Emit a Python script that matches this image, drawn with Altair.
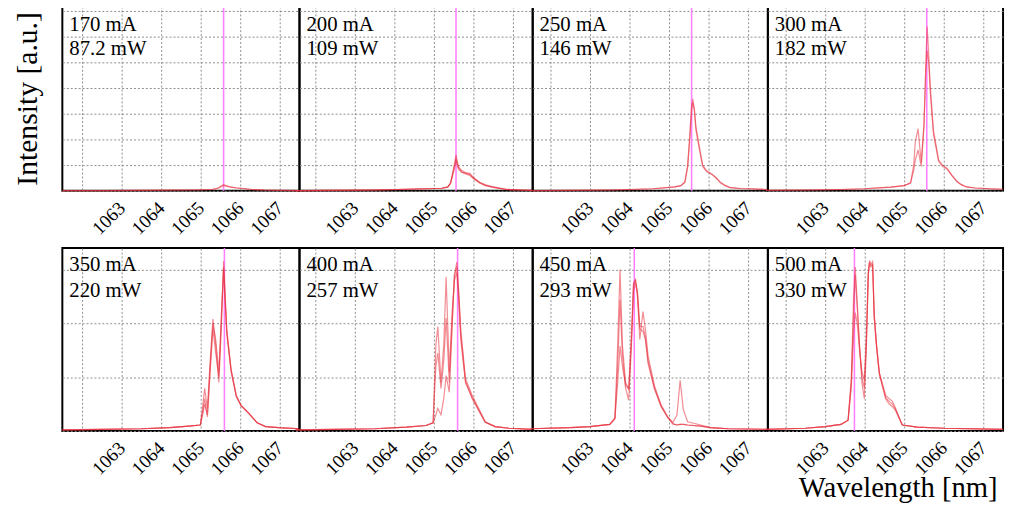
import altair as alt
import pandas as pd

FONT = "Liberation Serif"

CURRENTS = ["170 mA", "200 mA", "250 mA", "300 mA", "350 mA", "400 mA", "450 mA", "500 mA"]
POWERS = ["87.2 mW", "109 mW", "146 mW", "182 mW", "220 mW", "257 mW", "293 mW", "330 mW"]
CENTERS = [1065.58, 1065.56, 1065.57, 1065.57, 1065.6, 1065.6, 1064.12, 1063.74]
X_TICKS = [1062, 1063, 1064, 1065, 1066, 1067]

# ---- spectra (wavelength grid + several traces per panel) ----
WL1 = [1061.5, 1062.5, 1063.5, 1064.5, 1065.0, 1065.3, 1065.45, 1065.52, 1065.58, 1065.65, 1065.75, 1065.9, 1066.1, 1066.3, 1066.6, 1067.0, 1067.5]
A1 = [0.01, 0.01, 0.02, 0.03, 0.04, 0.06, 0.12, 0.2, 0.24, 0.2, 0.15, 0.12, 0.09, 0.05, 0.03, 0.02, 0.01]
B1 = [0.01, 0.01, 0.02, 0.03, 0.04, 0.05, 0.1, 0.16, 0.2, 0.18, 0.14, 0.11, 0.08, 0.05, 0.03, 0.02, 0.01]

WL2 = [1061.5, 1062.5, 1063.5, 1064.3, 1064.8, 1065.2, 1065.35, 1065.42, 1065.5, 1065.56, 1065.62, 1065.7, 1065.8, 1065.91, 1066.0, 1066.16, 1066.3, 1066.5, 1066.83, 1067.2, 1067.5]
A2 = [0.01, 0.02, 0.03, 0.06, 0.08, 0.1, 0.15, 0.3, 0.9, 1.4, 0.95, 0.8, 0.7, 0.63, 0.5, 0.31, 0.22, 0.14, 0.05, 0.03, 0.02]
B2 = [0.01, 0.02, 0.03, 0.06, 0.08, 0.1, 0.14, 0.28, 0.75, 1.14, 0.85, 0.72, 0.7, 0.68, 0.52, 0.33, 0.23, 0.15, 0.06, 0.03, 0.02]
C2 = [0.01, 0.02, 0.03, 0.06, 0.08, 0.1, 0.14, 0.29, 0.8, 1.25, 0.9, 0.74, 0.66, 0.6, 0.47, 0.3, 0.2, 0.13, 0.05, 0.03, 0.02]

WL3 = [1061.5, 1062.5, 1063.5, 1064.0, 1064.6, 1065.15, 1065.3, 1065.4, 1065.47, 1065.52, 1065.57, 1065.6, 1065.64, 1065.68, 1065.77, 1065.85, 1065.95, 1066.09, 1066.2, 1066.3, 1066.42, 1066.55, 1066.8, 1067.04, 1067.5]
A3 = [0.01, 0.02, 0.03, 0.05, 0.08, 0.15, 0.2, 0.35, 1.0, 2.1, 3.3, 3.58, 3.1, 2.36, 1.59, 0.95, 0.75, 0.63, 0.48, 0.31, 0.2, 0.12, 0.09, 0.08, 0.05]
B3 = [0.01, 0.02, 0.03, 0.05, 0.08, 0.15, 0.2, 0.33, 0.9, 1.9, 3.1, 3.45, 3.2, 2.5, 1.7, 1.0, 0.78, 0.65, 0.5, 0.33, 0.21, 0.12, 0.09, 0.08, 0.05]

WL4 = [1061.5, 1062.5, 1063.4, 1064.0, 1064.66, 1065.0, 1065.16, 1065.24, 1065.28, 1065.35, 1065.43, 1065.5, 1065.55, 1065.58, 1065.62, 1065.66, 1065.74, 1065.87, 1065.97, 1066.08, 1066.2, 1066.33, 1066.45, 1066.58, 1066.8, 1067.15, 1067.5]
A4 = [0.02, 0.03, 0.05, 0.08, 0.14, 0.2, 0.31, 0.8, 1.2, 1.59, 0.95, 2.5, 5.2, 6.4, 5.3, 4.03, 2.36, 1.2, 1.0, 0.88, 0.62, 0.37, 0.24, 0.15, 0.11, 0.08, 0.06]
B4 = [0.02, 0.03, 0.05, 0.08, 0.14, 0.2, 0.3, 1.0, 1.9, 2.42, 1.1, 2.6, 4.8, 5.46, 5.0, 3.8, 2.2, 1.15, 0.95, 0.85, 0.6, 0.36, 0.23, 0.15, 0.11, 0.08, 0.06]

WL5 = [1061.5, 1062.5, 1063.5, 1064.22, 1064.7, 1064.99, 1065.05, 1065.1, 1065.17, 1065.24, 1065.31, 1065.38, 1065.46, 1065.52, 1065.58, 1065.62, 1065.66, 1065.77, 1065.9, 1066.02, 1066.22, 1066.43, 1066.64, 1066.97, 1067.5]
A5 = [0.02, 0.03, 0.04, 0.06, 0.09, 0.11, 0.45, 0.79, 0.42, 1.3, 2.08, 1.6, 0.9, 1.9, 3.16, 2.5, 1.89, 1.15, 0.66, 0.48, 0.33, 0.15, 0.08, 0.06, 0.04]
B5 = [0.02, 0.03, 0.04, 0.06, 0.09, 0.11, 0.35, 0.6, 0.26, 1.1, 1.9, 1.45, 1.0, 2.0, 3.0, 2.4, 1.8, 1.1, 0.64, 0.47, 0.32, 0.15, 0.08, 0.06, 0.04]
C5 = [0.02, 0.03, 0.04, 0.06, 0.09, 0.11, 0.3, 0.5, 0.3, 1.2, 2.0, 1.7, 1.1, 2.1, 3.05, 2.45, 1.85, 1.12, 0.65, 0.47, 0.32, 0.15, 0.08, 0.06, 0.04]

WL6 = [1061.5, 1062.5, 1063.5, 1064.3, 1064.8, 1064.98, 1065.05, 1065.1, 1065.18, 1065.25, 1065.31, 1065.39, 1065.46, 1065.52, 1065.58, 1065.63, 1065.68, 1065.8, 1065.97, 1066.13, 1066.3, 1066.55, 1066.9, 1067.5]
A6 = [0.02, 0.03, 0.04, 0.07, 0.1, 0.15, 1.2, 1.45, 0.79, 1.3, 2.1, 0.9, 2.0, 2.9, 3.14, 2.6, 1.89, 0.97, 0.66, 0.42, 0.17, 0.08, 0.05, 0.03]
B6 = [0.02, 0.03, 0.04, 0.07, 0.1, 0.15, 1.6, 1.94, 0.9, 1.6, 2.86, 1.1, 2.2, 2.8, 2.95, 2.4, 1.7, 0.9, 0.6, 0.38, 0.16, 0.08, 0.05, 0.03]
C6 = [0.02, 0.03, 0.04, 0.07, 0.1, 0.15, 0.3, 0.42, 0.3, 0.6, 1.03, 0.72, 1.9, 2.9, 3.05, 2.5, 1.8, 0.92, 0.62, 0.4, 0.16, 0.08, 0.05, 0.03]

WL7 = [1061.5, 1062.5, 1063.0, 1063.5, 1063.63, 1063.7, 1063.76, 1063.82, 1063.9, 1063.98, 1064.05, 1064.1, 1064.15, 1064.2, 1064.26, 1064.34, 1064.4, 1064.47, 1064.63, 1064.8, 1064.97, 1065.1, 1065.2, 1065.28, 1065.36, 1065.47, 1065.8, 1066.05, 1066.5, 1067.5]
A7 = [0.04, 0.06, 0.08, 0.12, 0.24, 1.2, 2.44, 1.4, 0.8, 0.57, 1.6, 2.7, 2.83, 2.5, 1.7, 2.22, 1.9, 1.39, 0.84, 0.48, 0.26, 0.16, 0.3, 0.94, 0.4, 0.17, 0.11, 0.06, 0.04, 0.03]
B7 = [0.04, 0.06, 0.08, 0.12, 0.24, 1.6, 3.0, 1.6, 0.9, 0.78, 1.8, 2.75, 2.8, 2.6, 1.95, 1.94, 1.75, 1.3, 0.8, 0.46, 0.25, 0.13, 0.11, 0.12, 0.12, 0.11, 0.09, 0.06, 0.04, 0.03]
C7 = [0.04, 0.06, 0.08, 0.12, 0.22, 0.9, 1.58, 1.2, 0.85, 0.78, 1.7, 2.6, 2.75, 2.55, 1.9, 1.85, 1.7, 1.25, 0.78, 0.45, 0.24, 0.13, 0.11, 0.12, 0.12, 0.11, 0.09, 0.06, 0.04, 0.03]

WL8 = [1061.5, 1062.5, 1063.0, 1063.4, 1063.58, 1063.66, 1063.72, 1063.76, 1063.81, 1063.87, 1063.93, 1063.99, 1064.04, 1064.09, 1064.12, 1064.16, 1064.2, 1064.24, 1064.3, 1064.37, 1064.53, 1064.62, 1064.7, 1064.78, 1064.95, 1065.33, 1066.0, 1067.5]
A8 = [0.03, 0.05, 0.08, 0.12, 0.2, 0.97, 2.5, 3.05, 2.4, 1.58, 0.9, 0.6, 1.5, 2.9, 3.17, 3.1, 3.15, 2.19, 1.6, 1.09, 0.66, 0.6, 0.55, 0.42, 0.11, 0.07, 0.05, 0.03]
B8 = [0.03, 0.05, 0.08, 0.12, 0.2, 0.8, 1.8, 2.2, 2.0, 1.5, 1.1, 0.95, 1.7, 2.95, 3.1, 3.05, 3.08, 2.1, 1.55, 1.05, 0.6, 0.5, 0.45, 0.38, 0.11, 0.07, 0.05, 0.03]
C8 = [0.03, 0.05, 0.08, 0.12, 0.2, 0.9, 2.2, 2.9, 2.3, 1.55, 1.0, 0.8, 1.6, 2.9, 3.12, 3.08, 3.1, 2.15, 1.58, 1.07, 0.62, 0.55, 0.5, 0.4, 0.11, 0.07, 0.05, 0.03]

SPECTRA = [
    (WL1, [A1, B1]), (WL2, [A2, B2, C2]), (WL3, [A3, B3]), (WL4, [A4, B4]),
    (WL5, [A5, B5, C5]), (WL6, [A6, B6, C6]), (WL7, [A7, B7, C7]), (WL8, [A8, B8, C8]),
]

# ---- layout / style ----
PANEL_W = [240, 236, 238, 238]
ROW_H = [187, 185]
Y_MAX = [7.2, 3.4]
Y_GRID = [[0, 1, 2, 3, 4, 5, 6, 7], [0, 1, 2, 3]]
LABEL_Y = [(25, 50), (23, 49)]
LINE_COLOR = "#E8303C"
MARKER_COLOR = "#FF80FF"
GRID_COLOR = "#8c8c8c"


def panel(i):
    col, row = i % 4, i // 4
    w, h = PANEL_W[col], ROW_H[row]
    wl, traces = SPECTRA[i]
    rows = []
    for k, tr in enumerate(traces):
        for x, y in zip(wl, tr):
            rows.append({"wl": x, "I": y, "trace": k})
    df = pd.DataFrame(rows)

    xscale = alt.Scale(domain=[1067.5 - w / 40.0, 1067.5], nice=False, zero=False)
    yscale = alt.Scale(domain=[0, Y_MAX[row]], nice=False, zero=True)

    x_axis = alt.Axis(
        values=X_TICKS, format="d", labelExpr="datum.value == 1062 ? '' : datum.label",
        labelAngle=-45, labelAlign="right", labelBaseline="middle",
        labelFont=FONT, labelFontSize=19, labelColor="black", labelPadding=14,
        labelOverlap=False, labelFlush=False, ticks=False, tickSize=0, domain=False,
        grid=True, gridColor=GRID_COLOR, gridDash=[2, 2], gridWidth=1,
        title="Wavelength [nm]" if i == 7 else None,
        titleFont=FONT, titleFontSize=29, titleFontWeight="normal", titleColor="black",
        titleAlign="right", titleBaseline="middle", titleAngle=0,
        titleX=w - 6, titleY=57,
    )
    y_axis = alt.Axis(
        values=Y_GRID[row], labels=False, ticks=False, domain=False,
        grid=True, gridColor=GRID_COLOR, gridDash=[2, 2], gridWidth=1,
        title="Intensity [a.u.]" if i == 0 else None,
        titleFont=FONT, titleFontSize=30, titleFontWeight="normal", titleColor="black",
        titlePadding=20,
    )

    lines = alt.Chart(df).mark_line(
        color=LINE_COLOR, strokeWidth=1.2, opacity=0.55
    ).encode(
        x=alt.X("wl:Q", scale=xscale, axis=x_axis),
        y=alt.Y("I:Q", scale=yscale, axis=y_axis),
        detail="trace:N",
        order="wl:Q",
    )
    marker = alt.Chart(pd.DataFrame({"c": [CENTERS[i]]})).mark_rule(
        color=MARKER_COLOR, strokeWidth=1.6
    ).encode(x=alt.X("c:Q", scale=xscale))

    ly1, ly2 = LABEL_Y[row]
    lab = alt.Chart(pd.DataFrame({"t": [CURRENTS[i]], "p": [POWERS[i]]}))
    t1 = lab.mark_text(align="left", baseline="alphabetic", font=FONT, fontSize=21, color="black").encode(
        x=alt.value(7), y=alt.value(ly1), text="t:N")
    t2 = lab.mark_text(align="left", baseline="alphabetic", font=FONT, fontSize=21, color="black").encode(
        x=alt.value(7), y=alt.value(ly2), text="p:N")

    return alt.layer(marker, lines, t1, t2).properties(width=w, height=h)


chart = alt.concat(
    *[panel(i) for i in range(8)], columns=4,
    spacing={"row": 58, "column": 0}, bounds="flush",
).properties(
    padding={"left": 3, "top": -7, "right": 0, "bottom": 0},
    background="white",
).configure_view(
    stroke="black", strokeWidth=2
)

chart.save("out.html", embed_options={"renderer": "svg", "actions": False})
